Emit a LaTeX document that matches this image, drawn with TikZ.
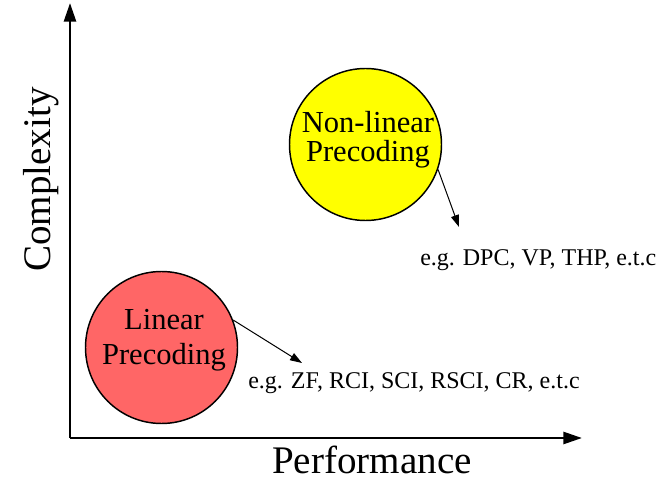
\documentclass[tikz,border=0pt]{standalone}
\usepackage{fontspec}
\setmainfont{Liberation Serif}
\usetikzlibrary{arrows.meta}
\definecolor{linfill}{RGB}{255,102,102}
\definecolor{nonlinfill}{RGB}{255,255,0}
\begin{document}
\begin{tikzpicture}[x=0.75pt,y=-0.75pt,
  axis/.style={line width=2pt,-{Triangle[length=14pt,width=9pt]}},
  pointer/.style={line width=0.75pt,-{Triangle[length=9pt,width=6pt]}},
  bubble/.style={circle,draw,line width=1.1pt,minimum size=114pt,inner sep=0pt},
  axislabel/.style={inner sep=0pt,font=\fontsize{29.3}{32}\selectfont},
  example/.style={inner sep=0pt,anchor=base west,font=\fontsize{18}{20}\selectfont}]
\useasboundingbox (0,0) rectangle (667,484);

% axes
\coordinate (origin) at (70,438);
\coordinate (ytip) at (70,3);
\coordinate (xtip) at (582,438);
\draw[axis] (origin) -- (ytip);
\draw[axis] (origin) -- (xtip);
\node[axislabel,anchor=base west,rotate=90] (ylab) at (50,272) {Complexity};
\node[axislabel,anchor=base west] (xlab) at (272,473) {Performance};

% precoding classes
\node[bubble,fill=linfill] (lin) at (161.5,347.5) {};
\node[bubble,fill=nonlinfill] (nonlin) at (365.5,144.5) {};
\node[align=center,inner sep=0pt,font=\fontsize{22.9}{26.25}\selectfont] (lintext) at (164,340) {Linear\\Precoding};
\node[align=center,inner sep=0pt,font=\fontsize{22.9}{21.75}\selectfont] (nonlintext) at (368,140) {Non-linear\\Precoding};

% examples
\coordinate (lintip) at (302,363);
\coordinate (nonlintip) at (459,227);
\draw[pointer] (lin.21) -- (lintip);
\draw[pointer] (nonlin.-19) -- (nonlintip);
\node[example] (linex) at (248,388) {e.g. ZF, RCI, SCI, RSCI, CR, e.t.c};
\node[example] (nonlinex) at (420,266) {e.g. DPC, VP, THP, e.t.c};
\end{tikzpicture}
\end{document}
